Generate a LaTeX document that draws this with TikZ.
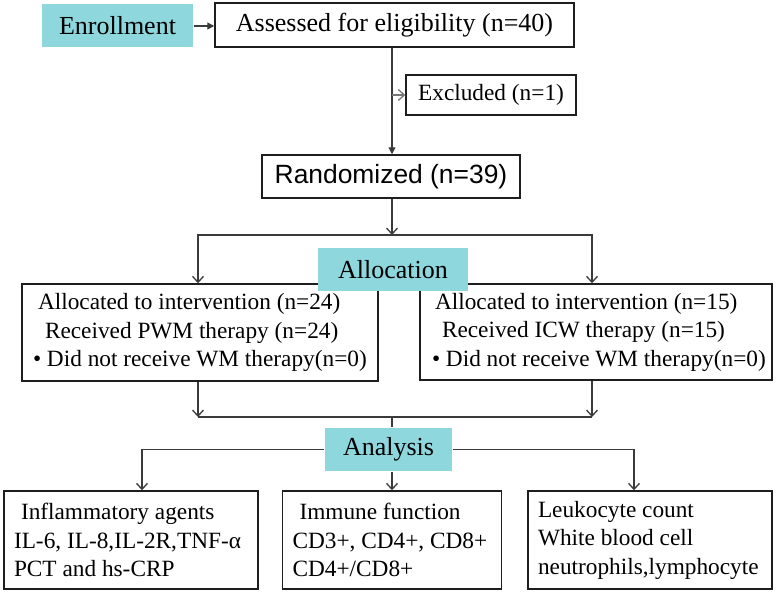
\documentclass[tikz,border=0pt]{standalone}
\usepackage{fontspec}
\setmainfont{Liberation Serif}
\newfontfamily\arialfont{Liberation Sans}
\usetikzlibrary{arrows.meta, positioning, calc}
\definecolor{ccyan}{HTML}{8DD7DD}
\definecolor{cline}{HTML}{3A3A3A}
\definecolor{cedge}{HTML}{1E1E1E}
\tikzset{
  every picture/.style={line width=1.3pt},
  stage/.style={fill=ccyan, minimum height=43pt, inner sep=0pt, font=\fontsize{26}{30}\selectfont},
  box/.style={draw=cedge, fill=white, line width=1.5pt, inner sep=0pt, font=\fontsize{26}{30}\selectfont},
  listbox/.style={draw=cedge, fill=white, line width=1.5pt, align=flush left, inner xsep=6pt, inner ysep=0pt,
                  font=\fontsize{23.3}{28.5}\selectfont},
  arrow/.style={-{Triangle[length=7pt, width=7pt]}, draw=cline},
  barb/.style={-{Straight Barb[length=6pt, width=11pt]}, draw=cline},
  link/.style={draw=cline},
}
\begin{document}
\begin{tikzpicture}[x=1pt, y=-1pt]
  \useasboundingbox (0,0) rectangle (778,591);
  % enrollment
  \node[stage, minimum width=151pt] (enroll) at (117.5,26) {Enrollment};
  \node[box, minimum width=359pt, minimum height=44pt] (assessed) at (394.5,25) {Assessed for eligibility (n=40)};
  \node[box, minimum width=170pt, minimum height=40pt, font=\fontsize{23.3}{28}\selectfont] (excluded) at (491,95) {Excluded (n=1)};
  \node[box, minimum width=258pt, minimum height=43pt, font=\arialfont\fontsize{26.4}{30}\selectfont] (random) at (391,176.5) {Randomized (n=39)};
  \coordinate (trunk) at (392,0);
  \draw[arrow] (enroll.east) -- (enroll.east -| assessed.west);
  \draw[arrow] (assessed.south -| trunk) -- (random.north -| trunk);
  \draw[barb, draw=cline!70] (excluded.west -| trunk) -- (excluded.west);
  % allocation
  \node[listbox, text width=344pt, minimum height=97pt] (armA) at (200,332.5)
    {\hspace*{10pt}Allocated to intervention (n=24)\\ \hspace*{17pt}Received PWM therapy (n=24)\\ \hspace*{5pt}\textbullet\ Did not receive WM therapy(n=0)};
  \node[listbox, text width=340pt, minimum height=96pt] (armB) at (596,332)
    {\hspace*{9pt}Allocated to intervention (n=15)\\ \hspace*{16pt}Received ICW therapy (n=15)\\ \hspace*{6pt}\textbullet\ Did not receive WM therapy(n=0)};
  \node[stage, minimum width=150pt] (alloc) at (393,269.5) {Allocation};
  \coordinate (split) at (392,235);
  \draw[barb] (random.south -| split) -- (split);
  \draw[barb] (split) -| ([xshift=-2pt]armA.north);
  \draw[barb] (split) -| ([xshift=-4pt]armB.north);
  % analysis
  \node[listbox, text width=242pt, minimum height=98pt] (inflam) at (131,540)
    {\hspace*{11pt}Inflammatory agents\\ \hspace*{4pt}IL-6, IL-8,IL-2R,TNF-α\\ \hspace*{4pt}PCT and hs-CRP};
  \node[listbox, text width=207pt, minimum height=98pt] (immune) at (392,540)
    {\hspace*{11pt}Immune function\\ \hspace*{4pt}CD3+, CD4+, CD8+\\ \hspace*{4pt}CD4+/CD8+};
  \node[listbox, text width=232pt, minimum height=98pt] (leuko) at (650,540)
    {\hspace*{4pt}Leukocyte count\\ \hspace*{4pt}White blood cell\\ \hspace*{4pt}neutrophils,lymphocyte};
  \node[stage, minimum width=127pt] (analysis) at (388.5,449.5) {Analysis};
  \coordinate (merge) at (392,417);
  \draw[barb] ([xshift=-2pt]armA.south) -- ([xshift=-2pt]armA.south |- merge);
  \draw[barb] ([xshift=-4pt]armB.south) -- ([xshift=-4pt]armB.south |- merge);
  \draw[link] ([xshift=-2pt]armA.south |- merge) -- ([xshift=-4pt]armB.south |- merge);
  \draw[link] (merge) -- (merge |- analysis.north);
  \draw[barb] (analysis.west) -| ([xshift=11pt]inflam.north);
  \draw[barb] (analysis.south -| immune.north) -- (immune.north);
  \draw[barb] (analysis.east) -| ([xshift=-16pt]leuko.north);
\end{tikzpicture}
\end{document}
